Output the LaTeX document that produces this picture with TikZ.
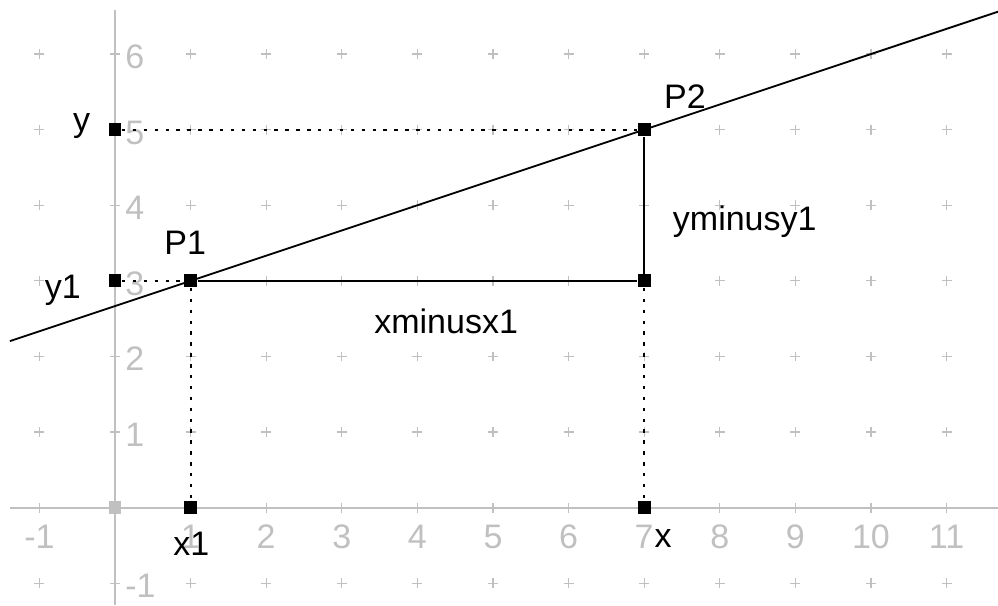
\documentclass[tikz,border=0pt]{standalone}
\usepackage{fontspec}
\setmainfont{Liberation Sans}
\definecolor{axisgray}{RGB}{192,192,192}
\begin{document}
\begin{tikzpicture}[
  font=\fontsize{12.8}{15}\selectfont,
  axis/.style={axisgray, line width=0.75pt},
  cross/.style={axisgray, line width=0.45pt},
  ticklabel/.style={text=axisgray, inner sep=0pt},
  pt/.style={fill=black, rectangle, minimum size=0.17cm, inner sep=0pt},
  guide/.style={line width=0.7pt, dash pattern=on 1.3pt off 2.8pt},
  seg/.style={line width=0.7pt},
  lbl/.style={inner sep=0pt, anchor=base}
]
\useasboundingbox (-1.521,-1.288) rectangle (11.68,6.715);
\foreach \x in {-1,...,11}
  \foreach \y in {-1,...,6}
    \draw[cross] (\x-0.065,\y) -- (\x+0.065,\y) (\x,\y-0.065) -- (\x,\y+0.065);
\draw[axis] (-1.39,0) -- (11.68,0);
\draw[axis] (0,-1.288) -- (0,6.58);
\foreach \x in {-1,1,2,...,11}
  \node[ticklabel, anchor=base] at (\x,-0.543) {\x};
\foreach \y in {-1,1,2,...,6}
  \node[ticklabel, anchor=base west] at (0.13,\y-0.19) {\y};
\coordinate (lineL) at (-1.39,2.203);
\coordinate (lineR) at (11.68,6.56);
\draw[seg] (lineL) -- (lineR);
\node[pt, fill=axisgray] (O) at (0,0) {};
\node[pt] (Y) at (0,5) {};
\node[pt] (Y1) at (0,3) {};
\node[pt] (P1) at (1,3) {};
\node[pt] (P2) at (7,5) {};
\node[pt] (C) at (7,3) {};
\node[pt] (X1) at (1,0) {};
\node[pt] (X) at (7,0) {};
\draw[guide] (Y) -- (P2);
\draw[guide] (Y1) -- (P1);
\draw[guide] (P1) -- (X1);
\draw[guide] (C) -- (X);
\draw[seg] (P1) -- (C);
\draw[seg] (C) -- (P2);
\node[lbl] (yl) at (-0.44,4.97) {y};
\node[lbl] (y1l) at (-0.69,2.77) {y1};
\node[lbl] (P1l) at (0.93,3.355) {P1};
\node[lbl] (P2l) at (7.54,5.285) {P2};
\node[lbl] (dyl) at (8.33,3.67) {yminusy1};
\node[lbl] (dxl) at (4.38,2.30) {xminusx1};
\node[lbl] (x1l) at (1.01,-0.636) {x1};
\node[lbl] (xl) at (7.25,-0.53) {x};
\end{tikzpicture}
\end{document}
